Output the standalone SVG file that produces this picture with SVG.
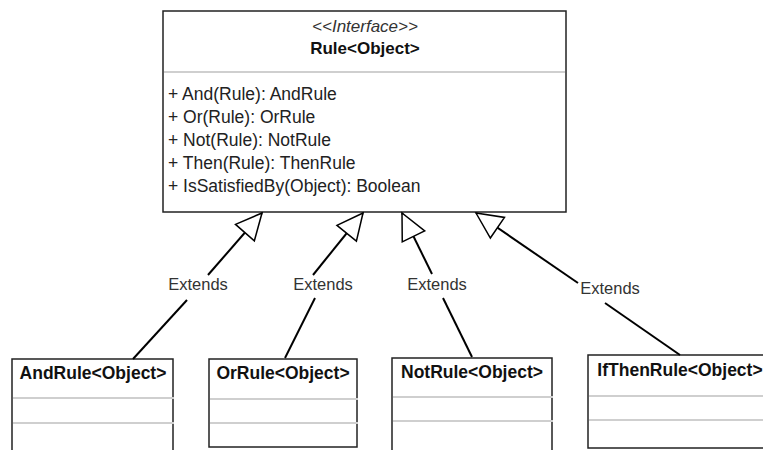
<svg xmlns="http://www.w3.org/2000/svg" width="763" height="450" viewBox="0 0 763 450">
<style>
text{font-family:"Liberation Sans",Arial,Helvetica,sans-serif;}
.box{fill:#fff;stroke:#222;stroke-width:1.5;}
.sep{stroke:#cfcfcf;stroke-width:2;}
.stereo{font-size:17px;font-style:italic;fill:#333;text-anchor:middle;}
.title{font-size:17px;font-weight:bold;fill:#111;text-anchor:middle;}
.op{font-size:17.5px;fill:#222;}
.cls{font-size:17.5px;font-weight:bold;fill:#111;text-anchor:middle;}
.lbl{font-size:16.5px;fill:#333;text-anchor:middle;}
.conn{stroke:#000;stroke-width:2;fill:none;}
</style>
<defs>
<marker id="tri" markerUnits="userSpaceOnUse" viewBox="-2 -2 30 29" markerWidth="30" markerHeight="29" refX="26" refY="12.5" orient="auto">
<path d="M26,12.5 L0,0 L0,25 Z" fill="#fff" stroke="#000" stroke-width="1.5" stroke-linejoin="miter"/>
</marker>
</defs>

<g id="rule">
<rect class="box" x="163" y="11" width="403" height="201"/>
<line class="sep" x1="164" y1="72" x2="565" y2="72"/>
<text class="stereo" x="365" y="32">&lt;&lt;Interface&gt;&gt;</text>
<text class="title" x="365" y="54">Rule&lt;Object&gt;</text>
<text class="op" x="168" y="100">+ And(Rule): AndRule</text>
<text class="op" x="168" y="123">+ Or(Rule): OrRule</text>
<text class="op" x="168" y="146">+ Not(Rule): NotRule</text>
<text class="op" x="168" y="169">+ Then(Rule): ThenRule</text>
<text class="op" x="168" y="192">+ IsSatisfiedBy(Object): Boolean</text>
</g>

<g id="andrule">
<rect class="box" x="12" y="359" width="161" height="100"/>
<line class="sep" x1="13" y1="398" x2="174" y2="398"/>
<line class="sep" x1="13" y1="423" x2="174" y2="423"/>
<text class="cls" x="93" y="379">AndRule&lt;Object&gt;</text>
</g>

<g id="orrule">
<rect class="box" x="209" y="359" width="148" height="88"/>
<line class="sep" x1="210" y1="399" x2="358" y2="399"/>
<line class="sep" x1="210" y1="423" x2="358" y2="423"/>
<text class="cls" x="283" y="379">OrRule&lt;Object&gt;</text>
</g>

<g id="notrule">
<rect class="box" x="392" y="358" width="160" height="100"/>
<line class="sep" x1="393" y1="397" x2="553" y2="397"/>
<line class="sep" x1="393" y1="421" x2="553" y2="421"/>
<text class="cls" x="472" y="378">NotRule&lt;Object&gt;</text>
</g>

<g id="ifthenrule">
<rect class="box" x="588" y="355" width="184" height="93"/>
<line class="sep" x1="589" y1="396" x2="772" y2="396"/>
<line class="sep" x1="589" y1="420" x2="772" y2="420"/>
<text class="cls" x="680" y="376">IfThenRule&lt;Object&gt;</text>
</g>

<g id="connectors">
<line class="conn" x1="133" y1="359" x2="187" y2="300"/>
<line class="conn" x1="208" y1="275" x2="262" y2="213" marker-end="url(#tri)"/>
<text class="lbl" x="198" y="290">Extends</text>

<line class="conn" x1="285" y1="358" x2="315" y2="298"/>
<line class="conn" x1="313" y1="275" x2="363" y2="213" marker-end="url(#tri)"/>
<text class="lbl" x="323" y="290">Extends</text>

<line class="conn" x1="472" y1="357" x2="443" y2="298"/>
<line class="conn" x1="432" y1="274" x2="402" y2="213" marker-end="url(#tri)"/>
<text class="lbl" x="437" y="290">Extends</text>

<line class="conn" x1="680" y1="355" x2="605" y2="303"/>
<line class="conn" x1="578" y1="283" x2="476" y2="213" marker-end="url(#tri)"/>
<text class="lbl" x="610" y="294">Extends</text>
</g>
</svg>
